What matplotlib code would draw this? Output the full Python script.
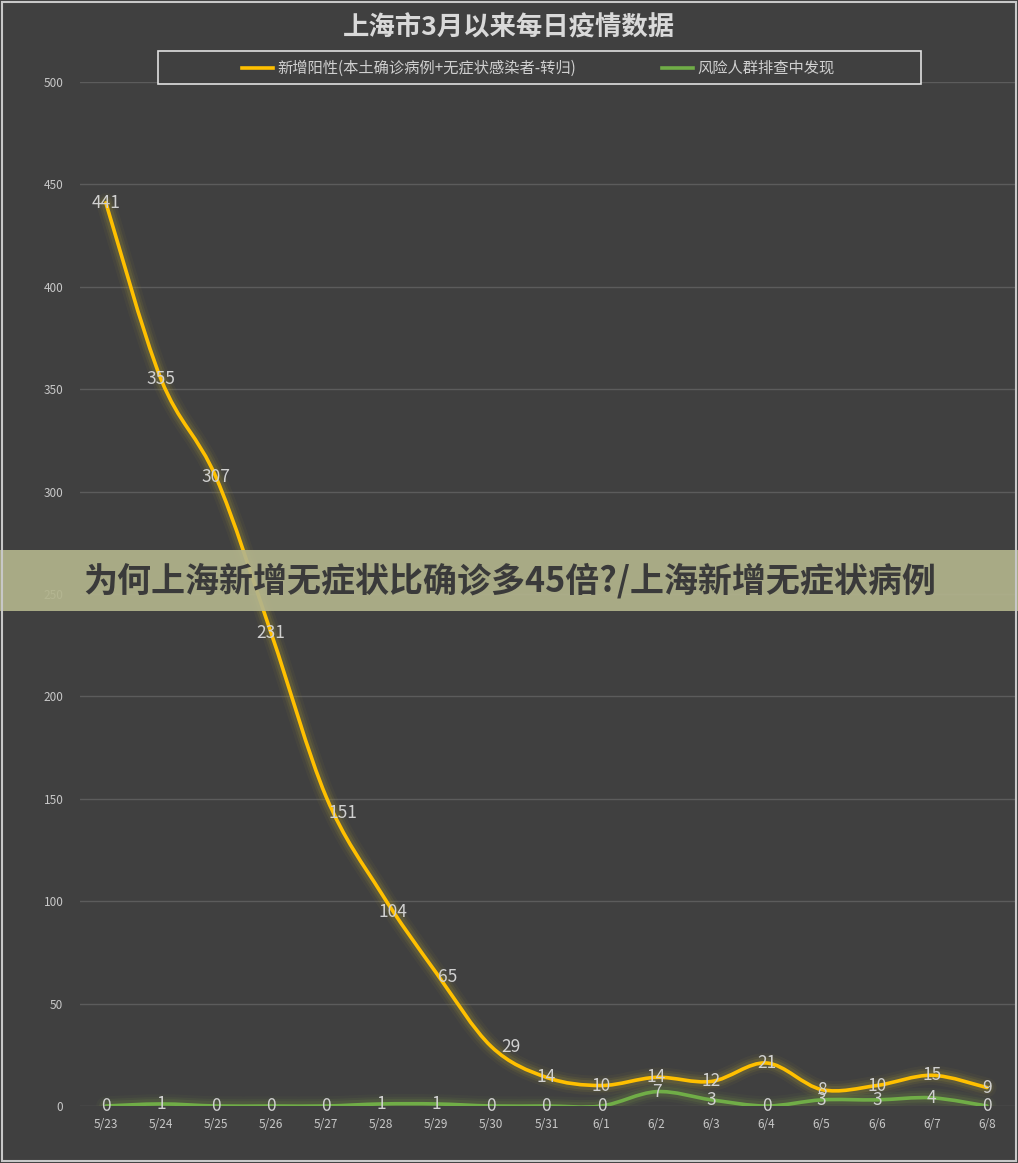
import matplotlib
matplotlib.use('Agg')
import matplotlib.pyplot as plt
from matplotlib.path import Path
from matplotlib.patches import PathPatch, Rectangle
from matplotlib.lines import Line2D

plt.rcParams['font.family'] = ['Noto Sans CJK SC', 'DejaVu Sans']

# data
dates = ['5/23', '5/24', '5/25', '5/26', '5/27', '5/28', '5/29', '5/30', '5/31',
         '6/1', '6/2', '6/3', '6/4', '6/5', '6/6', '6/7', '6/8']
positive = [441, 355, 307, 231, 151, 104, 65, 29, 14, 10, 14, 12, 21, 8, 10, 15, 9]
screening = [0, 1, 0, 0, 0, 1, 1, 0, 0, 0, 7, 3, 0, 3, 3, 4, 0]
label_positive = '新增阳性(本土确诊病例+无症状感染者-转归)'
label_screening = '风险人群排查中发现'
title = '上海市3月以来每日疫情数据'
banner = '为何上海新增无症状比确诊多45倍?/上海新增无症状病例'
yticks = [0, 50, 100, 150, 200, 250, 300, 350, 400, 450, 500]

BG = '#404040'
YELLOW = '#ffc000'
GREEN = '#70ad47'
TXT = '#d0d0d0'

# hand-moved labels in the original (pixel offsets)
label_shift = {4: (17, -16), 5: (12, -19), 6: (11, -4), 7: (20, 0)}


def smooth_path(xs, ys):
    # Excel-like smoothed line as cubic bezier segments through the points
    verts = [(xs[0], ys[0])]
    codes = [Path.MOVETO]
    n = len(xs)
    for i in range(n - 1):
        x0, y0 = (xs[i - 1], ys[i - 1]) if i > 0 else (xs[i], ys[i])
        x1, y1 = xs[i], ys[i]
        x2, y2 = xs[i + 1], ys[i + 1]
        x3, y3 = (xs[i + 2], ys[i + 2]) if i + 2 < n else (x2, y2)
        c1 = (x1 + (x2 - x0) / 6, y1 + (y2 - y0) / 6)
        c2 = (x2 - (x3 - x1) / 6, y2 - (y3 - y1) / 6)
        verts += [c1, c2, (x2, y2)]
        codes += [Path.CURVE4] * 3
    return Path(verts, codes)


fig = plt.figure(figsize=(10.18, 11.63), dpi=100)
fig.patch.set_facecolor(BG)
ax = fig.add_axes([80 / 1018, 57 / 1163, 935 / 1018, 1024 / 1163])
ax.set_facecolor(BG)

xs = list(range(len(dates)))
ax.set_xlim(-0.47, len(dates) - 1 + 0.51)
ax.set_ylim(0, 500)
ax.set_yticks(yticks)
ax.set_xticks(xs)
ax.set_xticklabels(dates)
ax.grid(axis='y', color='#5c5c5c', linewidth=1)
ax.set_axisbelow(True)
for s in ax.spines.values():
    s.set_visible(False)
ax.tick_params(axis='both', length=0, colors='#c8c8c8', labelsize=8.5)
ax.tick_params(axis='y', pad=12)
ax.tick_params(axis='x', pad=9)

for k, (series, color, glow) in enumerate([(positive, YELLOW, '#b0a030'),
                                           (screening, GREEN, '#7a9a40')]):
    p = smooth_path(xs, series)
    for lw, a in [(14, 0.06), (10, 0.1), (7, 0.15)]:
        ax.add_patch(PathPatch(p, fill=False, edgecolor=glow, linewidth=lw, alpha=a,
                               capstyle='round', joinstyle='round', zorder=2))
    ax.add_patch(PathPatch(p, fill=False, edgecolor=color, linewidth=2.6,
                           capstyle='round', joinstyle='round', zorder=3))
    for i, (x, v) in enumerate(zip(xs, series)):
        dx, dy = label_shift.get(i, (0, 0)) if k == 0 else (0, 0)
        ax.annotate(str(v), (x, v), xytext=(dx, dy), textcoords='offset pixels',
                    ha='center', va='center', fontsize=12.5, color=TXT, zorder=4)

# title
fig.text(0.5, 1 - 28 / 1163, title, ha='center', va='center', fontsize=19,
         fontweight='bold', color='#d9d9d9')

# legend box
fig.add_artist(Rectangle((158 / 1018, 1 - 84 / 1163), 763 / 1018, 33 / 1163,
                         transform=fig.transFigure, fill=True, facecolor=BG,
                         edgecolor='#e0e0e0', linewidth=1.2, zorder=5))
ly = 1 - 68 / 1163
for x0, color, lab in [(242, YELLOW, label_positive), (662, GREEN, label_screening)]:
    fig.add_artist(Line2D([x0 / 1018, (x0 + 31) / 1018], [ly, ly], color=color,
                          linewidth=2.6, transform=fig.transFigure, zorder=6))
    fig.text((x0 + 35) / 1018, ly, lab, ha='left', va='center', fontsize=11,
             color=TXT, zorder=6)

# overlay banner
fig.add_artist(Rectangle((0, 1 - 611 / 1163), 1, 61 / 1163, transform=fig.transFigure,
                         facecolor='#b2b48c', edgecolor='none', alpha=0.92, zorder=10))
fig.text(510 / 1018, 1 - 581 / 1163, banner, ha='center', va='center', fontsize=24.5,
         fontweight='heavy', color='#3a3a3a', zorder=11)

# outer frame
fig.add_artist(Rectangle((2 / 1018, 2 / 1163), 1014 / 1018, 1159 / 1163,
                         transform=fig.transFigure, fill=False, edgecolor='#c8c8c8',
                         linewidth=1.5, zorder=12))

fig.savefig('out.png', dpi=100, facecolor=BG)
